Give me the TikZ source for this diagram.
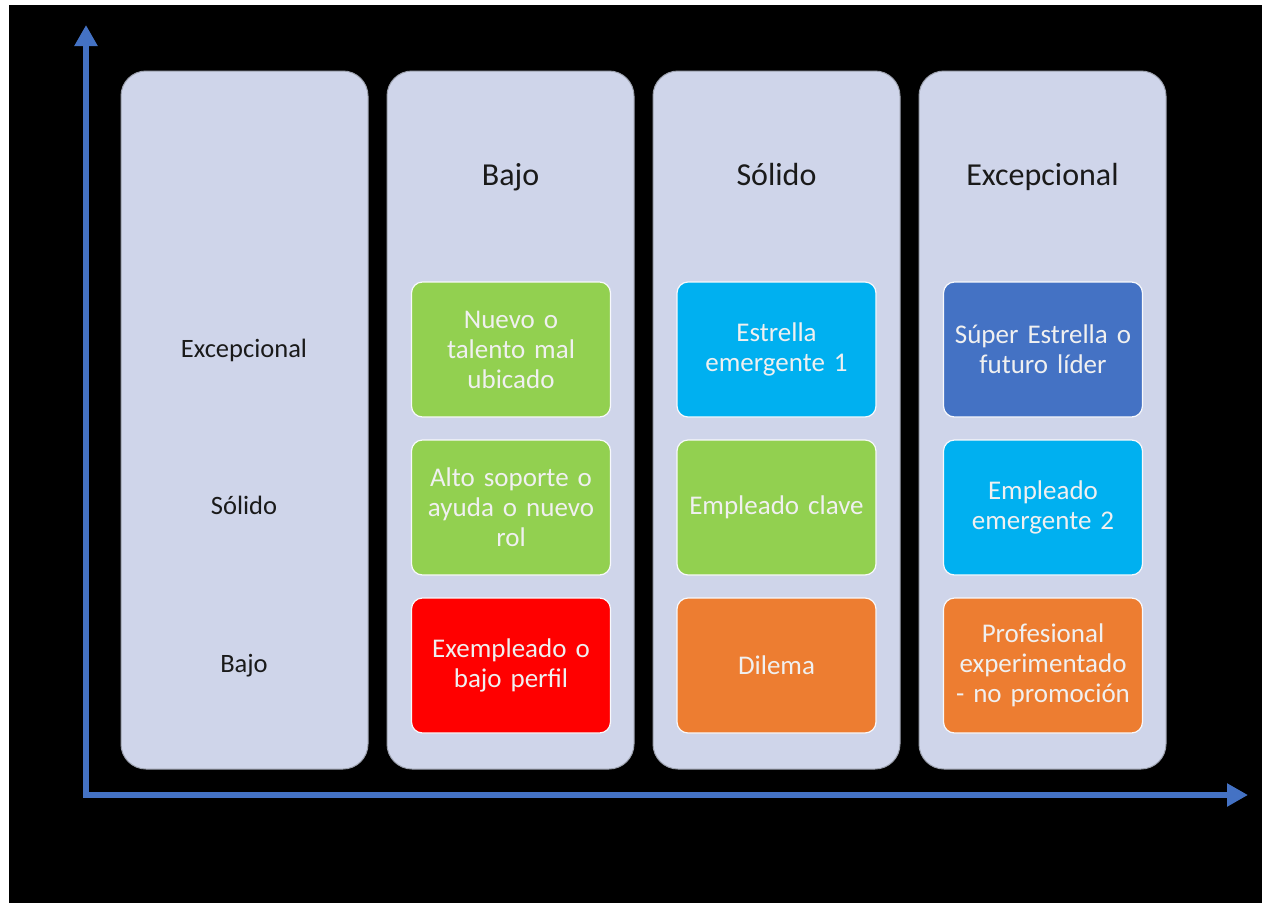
\documentclass[tikz,border=0pt]{standalone}
\usepackage{fontspec}
\setmainfont{Carlito}
\usetikzlibrary{arrows.meta}
\definecolor{panel}{HTML}{CFD5EA}
\definecolor{panelrim}{HTML}{9CA1AE}
\definecolor{cgreen}{HTML}{92D050}
\definecolor{cred}{HTML}{FF0000}
\definecolor{corange}{HTML}{ED7D31}
\definecolor{ccyan}{HTML}{00B0F0}
\definecolor{cblue}{HTML}{4472C4}
\definecolor{axisblue}{HTML}{4472C4}
\definecolor{ink}{HTML}{1A1A1A}
\begin{document}
\begin{tikzpicture}[x=1pt,y=-1pt,
  panelbox/.style={draw=panelrim, line width=1pt, fill=panel, rounded corners=25pt,
    minimum width=247pt, minimum height=698pt, inner sep=0pt},
  cell/.style={draw=white!85!panel, line width=1.2pt, rounded corners=11pt,
    minimum width=199pt, minimum height=135pt, inner sep=0pt,
    text=white!94!black, align=center, text width=192pt,
    font=\fontsize{27}{30}\selectfont},
  hdr/.style={text=ink, font=\fontsize{32}{36}\selectfont, inner sep=0pt, anchor=base},
  rowlbl/.style={text=ink, font=\fontsize{26.5}{30}\selectfont, inner sep=0pt, anchor=base},
  axis/.style={draw=axisblue, line width=6pt, line join=miter}]
  % page and backdrop
  \fill[white] (0,0) rectangle (1262,903);
  \fill[black] (9,5) rectangle (1262,903);
  \useasboundingbox (0,0) rectangle (1262,903);

  % four column panels
  \node[panelbox] (p1) at (244.5,420) {};
  \node[panelbox] (p2) at (510.5,420) {};
  \node[panelbox] (p3) at (776.5,420) {};
  \node[panelbox] (p4) at (1042.5,420) {};

  % column headings (placed on their baselines)
  \node[hdr] (h2) at (510.5,185) {Bajo};
  \node[hdr] (h3) at (776.5,185) {Sólido};
  \node[hdr] (h4) at (1042.5,185) {Excepcional};

  % row labels (placed on their baselines)
  \node[rowlbl] (r1) at (244,357) {Excepcional};
  \node[rowlbl] (r2) at (244,514) {Sólido};
  \node[rowlbl] (r3) at (244,672) {Bajo};

  % grid cells
  \node[cell, fill=cgreen]  (c21) at (511,349.5) {Nuevo o\\talento mal\\ubicado};
  \node[cell, fill=cgreen]  (c22) at (511,507.5) {Alto soporte o\\ayuda o nuevo\\rol};
  \node[cell, fill=cred]    (c23) at (511,665.5) {Exempleado o\\bajo perfil};

  \node[cell, fill=ccyan]   (c31) at (776.5,349.5) {Estrella\\emergente 1};
  \node[cell, fill=cgreen]  (c32) at (776.5,507.5) {Empleado clave};
  \node[cell, fill=corange] (c33) at (776.5,665.5) {Dilema};

  \node[cell, fill=cblue]   (c41) at (1043,349.5) {Súper Estrella o\\futuro líder};
  \node[cell, fill=ccyan]   (c42) at (1043,507.5) {Empleado\\emergente 2};
  \node[cell, fill=corange] (c43) at (1043,665.5) {Profesional\\experimentado\\- no promoción};

  % axes
  \coordinate (ytip) at (86,25);
  \coordinate (origin) at (86,795);
  \coordinate (xtip) at (1248,795);
  \draw[axis, {Triangle[length=21pt,width=22pt]}-{Triangle[length=21pt,width=22pt]}]
    (ytip) -- (origin) -- (xtip);
\end{tikzpicture}
\end{document}
